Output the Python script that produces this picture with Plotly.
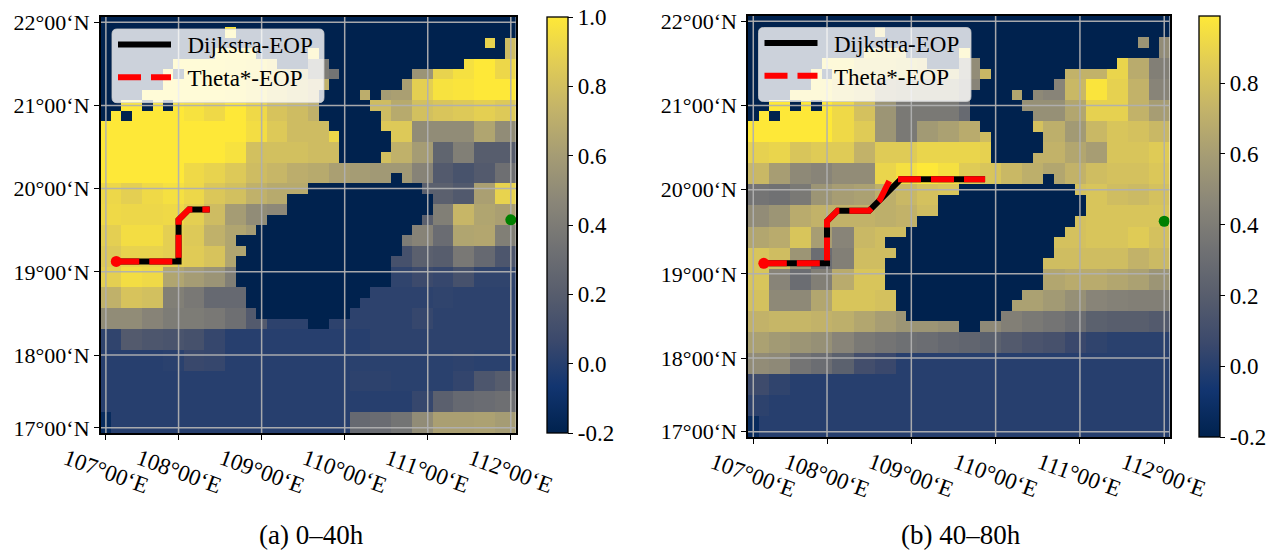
import plotly.graph_objects as go

FONT = "Liberation Serif"
COLS = list(range(40))
ROWS = list(range(40))
LON_TICKS = [0, 7, 15, 23, 31, 39]
LON_LABELS = ["107°00‘E", "108°00‘E", "109°00‘E", "110°00‘E", "111°00‘E", "112°00‘E"]
LAT_TICKS = [0, 8, 16, 24, 32, 39]
LAT_LABELS = ["22°00‘N", "21°00‘N", "20°00‘N", "19°00‘N", "18°00‘N", "17°00‘N"]
CB_TICKS = [-0.2, 0.0, 0.2, 0.4, 0.6, 0.8, 1.0]
CB_LABELS = ["-0.2", "0.0", "0.2", "0.4", "0.6", "0.8", "1.0"]
CB_TICKS_B = [-0.2, 0.0, 0.2, 0.4, 0.6, 0.8]
CB_LABELS_B = ["-0.2", "0.0", "0.2", "0.4", "0.6", "0.8"]

# Columns of each row that hold sea values; everything else is land
SEA_SPANS = [
    [], [(12, 12)], [(37, 37), (39, 39)], [(11, 14), (20, 20), (39, 39)],
    [(7, 16), (20, 21), (35, 39)], [(6, 6), (8, 22), (30, 39)],
    [(6, 21), (29, 39)], [(4, 20), (25, 25), (27, 39)],
    [(2, 3), (5, 5), (7, 20), (26, 39)], [(1, 1), (3, 20), (27, 39)],
    [(0, 21), (27, 39)], [(0, 22), (28, 39)], [(0, 22), (28, 39)], [(0, 22), (27, 39)],
    [(0, 39)], [(0, 27), (29, 39)], [(0, 19), (31, 39)], [(0, 17), (32, 39)],
    [(0, 17), (32, 39)], [(0, 15), (31, 39)], [(0, 14), (30, 39)], [(0, 12), (29, 39)],
    [(0, 13), (29, 39)], [(0, 12), (28, 39)], [(0, 12), (28, 39)], [(0, 12), (28, 39)],
    [(0, 13), (26, 39)], [(0, 13), (25, 39)], [(0, 14), (24, 39)], [(0, 19), (22, 39)],
    [(0, 39)], [(0, 39)], [(0, 39)], [(0, 39)], [(0, 39)],
    [(0, 39)], [(0, 39)], [(0, 39)], [(1, 39)], [(1, 39)],
]

# 20x20 blocks of EOP values
EOP_A = [
    [0, 0, 0, 0, 0, 0, 1.0, 0, 0, 0, 0, 0, 0, 0, 0, 0, 0, 0, 0, 0],
    [0, 0, 0, 0, 0, 1.0, 1.0, 1.0, 0, 0, .95, 0, 0, 0, 0, 0, 0, 0, .9, .78],
    [0, 0, 0, 1.0, 1.0, 1.0, .98, .96, .9, .78, .4, .35, 0, 0, 0, .55, .9, .96, 1.0, .92],
    [0, 0, 1.0, 1.0, 1.0, 1.0, .98, .93, .85, .78, .72, 0, .7, .6, .62, .88, .97, .98, 1.0, 1.0],
    [1.0, 1.0, 1.0, 1.0, .97, .93, 1.0, .93, .82, .78, .72, 0, 0, .78, .68, .8, .83, .85, .88, .85],
    [1.0, 1.0, 1.0, 1.0, 1.0, 1.0, 1.0, .95, .85, .78, .78, .92, 0, .85, .85, .5, .5, .5, .65, .5],
    [1.0, 1.0, 1.0, 1.0, 1.0, 1.0, .97, .8, .8, .8, .78, .78, 0, .8, .72, .6, .25, .42, .2, .2],
    [1.0, 1.0, 1.0, 1.0, .93, .9, .85, .78, .75, .7, .68, .62, .6, .58, .58, .45, .18, .13, .18, .32],
    [.92, .88, .93, .96, .92, .84, .8, .72, .68, .68, 0, 0, 0, 0, 0, .22, .22, .17, .62, .9],
    [.93, .92, .92, .93, .88, .78, .6, .5, .48, 0, 0, 0, 0, 0, 0, .22, .42, .75, .65, .62],
    [.88, .95, .95, .88, .85, .72, .65, .6, 0, 0, 0, 0, 0, 0, .4, .45, .3, .65, .66, .42],
    [.85, .9, .9, .88, .86, .82, .65, 0, 0, 0, 0, 0, 0, 0, .12, .22, .2, .38, .28, .15],
    [.88, .95, .93, .65, .6, .55, .42, 0, 0, 0, 0, 0, 0, 0, .03, .07, .05, .12, .03, .03],
    [.72, .82, .8, .42, .38, .28, .28, 0, 0, 0, 0, 0, .02, .02, .02, .02, .03, .02, .02, .02],
    [.5, .5, .45, .4, .4, .38, .32, .18, .02, .02, .02, .02, .02, .02, .02, .05, .02, .02, .02, .02],
    [.03, .18, .15, .14, .12, .05, 0, 0, 0, 0, 0, 0, 0, .02, .02, .02, .02, .02, .02, .02],
    [0, 0, 0, .01, .06, .05, 0, 0, 0, 0, 0, 0, .01, .01, .01, .01, .01, .02, .01, .01],
    [0, 0, 0, 0, 0, 0, 0, 0, 0, 0, 0, 0, .02, .02, .01, .01, .01, .04, .15, .2],
    [0, 0, 0, 0, 0, 0, 0, 0, 0, 0, 0, 0, 0, 0, 0, .05, .22, .28, .3, .32],
    [0, 0, 0, 0, 0, 0, 0, 0, 0, 0, 0, 0, .28, .3, .35, .5, .62, .62, .63, .6],
]
EOP_B = [
    [0, 0, 0, 0, 0, 0, .85, 0, 0, 0, 0, 0, 0, 0, 0, 0, 0, 0, 0, 0],
    [0, 0, 0, 0, 0, .92, .88, .85, 0, 0, .95, 0, 0, 0, 0, 0, 0, 0, .55, .5],
    [0, 0, 0, .95, .95, .85, .85, .82, .78, .75, .5, .75, 0, 0, 0, .72, .72, .9, .68, .42],
    [0, 0, .95, .95, .85, .8, .6, .55, .55, .55, .45, 0, .65, .48, .45, .75, .97, .88, .72, .45],
    [1.0, 1.0, 1.0, 1.0, .92, .8, .55, .38, .38, .38, .28, 0, 0, .52, .52, .65, .88, .88, .72, .6],
    [1.0, 1.0, 1.0, 1.0, .92, .85, .55, .38, .58, .62, .68, .78, 0, .8, .7, .58, .75, .82, .8, .75],
    [.88, .9, .82, .85, .85, .72, .85, .85, .9, .9, .9, .88, 0, .72, .72, .65, .6, .82, .82, .85],
    [.75, .6, .48, .45, .5, .5, .9, .95, 1.0, .95, .85, .82, .75, .7, .65, .72, .78, .8, .8, .83],
    [.35, .33, .38, .55, .6, .62, .7, .75, .8, .82, 0, 0, 0, 0, 0, .8, .82, .78, .76, .8],
    [.5, .55, .68, .72, .72, .72, .7, .72, .78, 0, 0, 0, 0, 0, 0, .8, .82, .82, .82, .82],
    [.65, .68, .82, .6, .45, .75, .78, .78, 0, 0, 0, 0, 0, 0, .8, .8, .82, .82, .85, .8],
    [.82, .78, .55, .3, .42, .78, .78, 0, 0, 0, 0, 0, 0, 0, .78, .78, .78, .78, .72, .76],
    [.82, .45, .3, .42, .68, .82, .82, 0, 0, 0, 0, 0, 0, 0, .65, .68, .68, .65, .62, .55],
    [.8, .48, .48, .65, .82, .82, .8, 0, 0, 0, 0, 0, .62, .62, .58, .52, .45, .43, .42, .42],
    [.72, .74, .74, .72, .7, .65, .6, .55, .55, .52, 0, .48, .42, .38, .35, .3, .22, .2, .2, .18],
    [.62, .58, .55, .52, .45, .38, .35, .32, .3, .27, .25, .22, .18, .14, .12, .06, .03, .01, .01, .01],
    [.5, .48, .35, .3, .22, .1, .06, 0, 0, 0, 0, 0, 0, 0, 0, 0, 0, 0, 0, 0],
    [.08, .03, 0, 0, 0, 0, 0, 0, 0, 0, 0, 0, 0, 0, 0, 0, 0, 0, 0, 0],
    [.02, 0, 0, 0, 0, 0, 0, 0, 0, 0, 0, 0, 0, 0, 0, 0, 0, 0, 0, 0],
    [0, 0, 0, 0, 0, 0, 0, 0, 0, 0, 0, 0, 0, 0, 0, 0, 0, 0, 0, 0],
]
LAND_VALUE = -0.2
CORNER_VALUE = -0.14  # two darker cells at the bottom-left corner

# Paths as (column, row) vertices
DIJKSTRA_A_COL = [1, 7, 7, 8, 10]
DIJKSTRA_A_ROW = [23, 23, 19, 18, 18]
THETA_A_COL = [1, 7, 7, 8, 10]
THETA_A_ROW = [23, 23, 19, 18, 18]
DIJKSTRA_B_COL = [1, 7, 7, 8, 11, 14, 22]
DIJKSTRA_B_ROW = [23, 23, 19, 18, 18, 15, 15]
THETA_B_COL = [1, 7, 7, 8, 11, 12, 13, 22]
THETA_B_ROW = [23, 23, 19, 18, 18, 17, 15, 15]
START = (1, 23)
GOAL = (39, 19)


def build_grid(blocks):
    grid = []
    for r in ROWS:
        row = []
        for c in COLS:
            sea = any(a <= c <= b for a, b in SEA_SPANS[r])
            if sea:
                row.append(blocks[r // 2][c // 2])
            elif r >= 38 and c == 0:
                row.append(CORNER_VALUE)
            else:
                row.append(LAND_VALUE)
        grid.append(row)
    return grid


W, H = 1279, 552
PANELS = [
    dict(l=100.7, r=516, t=17, b=433, cb_x=547, z=EOP_A, zmax=1.0, ticks=CB_TICKS, labels=CB_LABELS,
         dij=(DIJKSTRA_A_COL, DIJKSTRA_A_ROW), th=(THETA_A_COL, THETA_A_ROW), legend="legend",
         box=(112, 29, 324, 102.7), cap="(a) 0–40h", cap_x=311),
    dict(l=748, r=1169.5, t=16, b=437, cb_x=1199, z=EOP_B, zmax=0.99, ticks=CB_TICKS_B, labels=CB_LABELS_B,
         dij=(DIJKSTRA_B_COL, DIJKSTRA_B_ROW), th=(THETA_B_COL, THETA_B_ROW), legend="legend2",
         box=(758.5, 27.5, 971, 101.5), cap="(b) 40–80h", cap_x=961),
]

fig = go.Figure()
layout = dict(
    width=W, height=H, margin=dict(l=0, r=0, t=0, b=0, autoexpand=False), paper_bgcolor="white", plot_bgcolor="white",
    font=dict(family=FONT, size=21, color="black"), showlegend=True, annotations=[], shapes=[],
)


def rounded_box(x0, y0, x1, y1, rad=5):
    fx = lambda v: v / W
    fy = lambda v: 1 - v / H
    return (f"M {fx(x0+rad)},{fy(y0)} L {fx(x1-rad)},{fy(y0)} Q {fx(x1)},{fy(y0)} {fx(x1)},{fy(y0+rad)} "
            f"L {fx(x1)},{fy(y1-rad)} Q {fx(x1)},{fy(y1)} {fx(x1-rad)},{fy(y1)} "
            f"L {fx(x0+rad)},{fy(y1)} Q {fx(x0)},{fy(y1)} {fx(x0)},{fy(y1-rad)} "
            f"L {fx(x0)},{fy(y0+rad)} Q {fx(x0)},{fy(y0)} {fx(x0+rad)},{fy(y0)} Z")


for i, p in enumerate(PANELS, start=1):
    xa, ya = f"x{i if i > 1 else ''}", f"y{i if i > 1 else ''}"
    fig.add_trace(go.Heatmap(
        z=build_grid(p["z"]), x=COLS, y=ROWS, xaxis=xa, yaxis=ya, zmin=-0.2, zmax=p["zmax"],
        colorscale="Cividis", hoverinfo="skip", showlegend=False, xgap=0, ygap=0,
        colorbar=dict(
            x=p["cb_x"] / W, xanchor="left", xref="paper", y=1 - p["b"] / H, yanchor="bottom", yref="paper",
            len=(p["b"] - p["t"]) / H, lenmode="fraction", thickness=21, thicknessmode="pixels",
            outlinecolor="black", outlinewidth=1.3, ticks="outside", ticklen=5, tickwidth=1.2, tickcolor="black",
            tickmode="array", tickvals=p["ticks"], ticktext=p["labels"],
            tickfont=dict(family=FONT, size=23, color="black"), xpad=0, ypad=0,
        ),
    ))
    # Grid lines above the raster
    gx, gy = [], []
    for t in LON_TICKS:
        gx += [t, t, None]
        gy += [-0.5, 39.5, None]
    for t in LAT_TICKS:
        gx += [-0.5, 39.5, None]
        gy += [t, t, None]
    fig.add_trace(go.Scatter(x=gx, y=gy, xaxis=xa, yaxis=ya, mode="lines", hoverinfo="skip", showlegend=False,
                             line=dict(color="rgba(176,176,176,0.95)", width=1.5)))
    fig.add_trace(go.Scatter(x=p["dij"][0], y=p["dij"][1], xaxis=xa, yaxis=ya, mode="lines", name="\u2002Dijkstra-EOP",
                             legend=p["legend"], line=dict(color="black", width=6)))
    fig.add_trace(go.Scatter(x=p["th"][0], y=p["th"][1], xaxis=xa, yaxis=ya, mode="lines", name="\u2002Theta*-EOP",
                             legend=p["legend"], line=dict(color="red", width=6, dash="23px,10px")))
    fig.add_trace(go.Scatter(x=[START[0]], y=[START[1]], xaxis=xa, yaxis=ya, mode="markers", showlegend=False,
                             hoverinfo="skip", marker=dict(color="red", size=11)))
    fig.add_trace(go.Scatter(x=[GOAL[0]], y=[GOAL[1]], xaxis=xa, yaxis=ya, mode="markers", showlegend=False,
                             hoverinfo="skip", marker=dict(color="green", size=11)))

    suffix = "" if i == 1 else str(i)
    layout[f"xaxis{suffix}"] = dict(
        domain=[p["l"] / W, p["r"] / W], range=[-0.5, 39.5], anchor=f"y{suffix}", tickmode="array",
        tickvals=LON_TICKS, ticktext=[""] * 6, ticks="outside", ticklen=5, tickwidth=1.2, tickcolor="black",
        showgrid=False, zeroline=False, showline=True, linecolor="black", linewidth=1.5, mirror=True,
        layer="above traces",
    )
    layout[f"yaxis{suffix}"] = dict(
        domain=[1 - p["b"] / H, 1 - p["t"] / H], range=[39.5, -0.5], anchor=f"x{suffix}", tickmode="array",
        tickvals=LAT_TICKS, ticktext=LAT_LABELS, ticks="outside", ticklen=5, tickwidth=1.2, tickcolor="black",
        tickfont=dict(family=FONT, size=22, color="black"),
        showgrid=False, zeroline=False, showline=True, linecolor="black", linewidth=1.5, mirror=True,
        layer="above traces",
    )
    # Rotated longitude labels, centred under their ticks
    for t, lab in zip(LON_TICKS, LON_LABELS):
        layout["annotations"].append(dict(
            x=t, xref=f"x{suffix}", y=1 - (p["b"] + 38) / H, yref="paper", text=lab, showarrow=False,
            textangle=20, xanchor="center", yanchor="middle", font=dict(family=FONT, size=23, color="black"),
        ))
    layout["annotations"].append(dict(
        x=p["cap_x"] / W, xref="paper", y=1 - 535 / H, yref="paper", text=p["cap"], showarrow=False,
        xanchor="center", yanchor="middle", font=dict(family=FONT, size=27, color="black"),
    ))
    x0, y0, x1, y1 = p["box"]
    layout["shapes"].append(dict(
        type="path", xref="paper", yref="paper", path=rounded_box(x0, y0, x1, y1), layer="above",
        fillcolor="rgba(255,255,255,0.8)", line=dict(color="rgba(204,204,204,0.8)", width=1),
    ))
    layout[p["legend"]] = dict(
        x=(x0 + 1) / W, y=1 - (y0 - 6) / H, xanchor="left", yanchor="top", bgcolor="rgba(0,0,0,0)", borderwidth=0,
        font=dict(family=FONT, size=23, color="black"), itemwidth=53, traceorder="normal",
        itemclick=False, itemdoubleclick=False,
    )

fig.update_layout(**layout)
fig.write_html("out.html", post_script="document.body.style.margin='0';", config=dict(displayModeBar=False))
